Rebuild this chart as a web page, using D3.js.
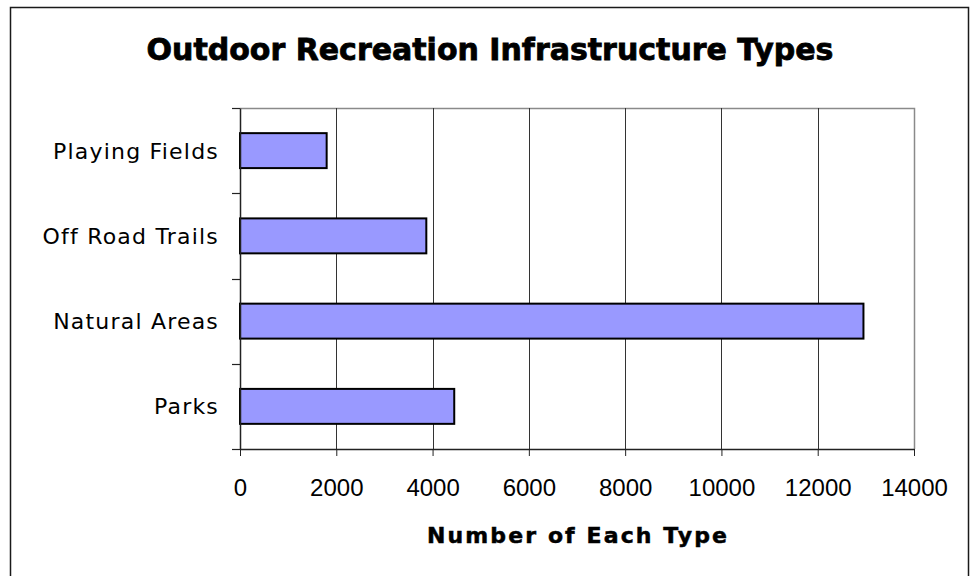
<!DOCTYPE html>
<html>
<head>
<meta charset="utf-8">
<script src="https://cdn.jsdelivr.net/npm/d3@7"></script>
<style>
  body { margin: 0; background: #fff; }
</style>
</head>
<body>
<script>
var categories = ["Playing Fields", "Off Road Trails", "Natural Areas", "Parks"],
    counts = [1800, 3870, 12950, 4450],
    xTicks = [0, 2000, 4000, 6000, 8000, 10000, 12000, 14000];

var w = 973,
    h = 576,
    plotLeft = 240, plotRight = 914, plotTop = 108, plotBottom = 449;

var svg = d3.select("body")
            .append("svg")
            .attr("width", w)
            .attr("height", h);

// outer chart frame
svg.append("rect")
    .attr("x", 10.5)
    .attr("y", 7.5)
    .attr("width", 958)
    .attr("height", 600)
    .attr("fill", "none")
    .attr("stroke", "#1a1a1a")
    .attr("stroke-width", 1.5);

var x = d3.scaleLinear()
          .domain([0, 14000])
          .range([plotLeft, plotRight]);

var y = d3.scaleBand()
          .domain(categories)
          .range([plotTop, plotBottom])
          .paddingInner(0.59)
          .paddingOuter(0.295);

// plot area border (top/right grey)
svg.append("path")
    .attr("d", "M" + plotLeft + "," + (plotTop + 0.5) + "H" + (plotRight + 0.5) + "V" + plotBottom)
    .attr("fill", "none")
    .attr("stroke", "#8a8a8a")
    .attr("stroke-width", 1.5);

// vertical gridlines
svg.selectAll("line.grid")
    .data(xTicks.slice(1, -1))
    .enter()
    .append("line")
    .attr("class", "grid")
    .attr("x1", function(d) { return Math.round(x(d)) + 0.5; })
    .attr("x2", function(d) { return Math.round(x(d)) + 0.5; })
    .attr("y1", plotTop)
    .attr("y2", plotBottom)
    .attr("stroke", "#333")
    .attr("stroke-width", 1);

// bars
svg.selectAll("rect.bar")
    .data(counts)
    .enter()
    .append("rect")
    .attr("class", "bar")
    .attr("x", x(0))
    .attr("y", function(d, i) { return y(categories[i]); })
    .attr("width", function(d) { return x(d) - x(0); })
    .attr("height", y.bandwidth())
    .attr("fill", "#9999ff")
    .attr("stroke", "#000")
    .attr("stroke-width", 2);

// x axis
var xAxis = svg.append("g")
    .attr("transform", "translate(0," + plotBottom + ")")
    .call(d3.axisBottom(x)
        .tickValues(xTicks)
        .tickFormat(d3.format("d"))
        .tickSize(7)
        .tickPadding(23)
        .tickSizeOuter(0));

xAxis.select(".domain").attr("stroke", "#222").attr("stroke-width", 1.5);
xAxis.selectAll(".tick line").attr("stroke", "#222");
xAxis.selectAll(".tick text")
    .attr("font-family", "'Liberation Sans', Arial, sans-serif")
    .attr("font-size", "24px")
    .attr("fill", "#000");

// y axis: labels only, boundary ticks drawn below
var yAxis = svg.append("g")
    .attr("transform", "translate(" + plotLeft + ",0)")
    .call(d3.axisLeft(y).tickSize(0).tickPadding(21));

yAxis.select(".domain").attr("stroke", "#222").attr("stroke-width", 1.5);
yAxis.selectAll(".tick text")
    .attr("font-family", "'DejaVu Sans', sans-serif")
    .attr("font-size", "22px")
    .style("letter-spacing", "1.2px")
    .attr("dy", "0.36em")
    .attr("fill", "#000");

var bounds = categories.map(function(c) { return y(c) - y.step() * y.paddingInner() / 2; });
bounds.push(plotBottom);

svg.selectAll("line.ytick")
    .data(bounds)
    .enter()
    .append("line")
    .attr("class", "ytick")
    .attr("x1", plotLeft - 8)
    .attr("x2", plotLeft)
    .attr("y1", function(d) { return Math.round(d) + 0.5; })
    .attr("y2", function(d) { return Math.round(d) + 0.5; })
    .attr("stroke", "#222")
    .attr("stroke-width", 1.2);

// titles
svg.append("text")
    .text("Outdoor Recreation Infrastructure Types")
    .attr("x", 490)
    .attr("y", 60)
    .attr("text-anchor", "middle")
    .attr("font-family", "'DejaVu Sans', sans-serif")
    .attr("font-weight", "bold")
    .attr("font-size", "30px")
    .attr("stroke", "#000")
    .attr("stroke-width", 0.8)
    .attr("fill", "#000");

svg.append("text")
    .text("Number of Each Type")
    .attr("x", (plotLeft + plotRight) / 2)
    .attr("y", 543)
    .attr("text-anchor", "middle")
    .attr("font-family", "'DejaVu Sans', sans-serif")
    .attr("font-weight", "bold")
    .attr("font-size", "22px")
    .attr("textLength", 300)
    .attr("lengthAdjust", "spacing")
    .attr("stroke", "#000")
    .attr("stroke-width", 0.5)
    .attr("fill", "#000");
</script>
</body>
</html>
